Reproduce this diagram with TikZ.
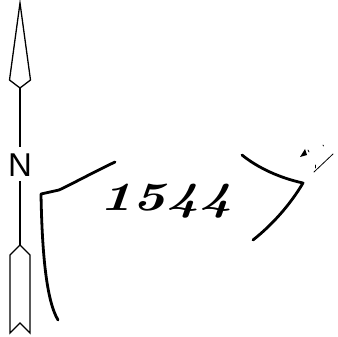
\documentclass[tikz,border=0pt]{standalone}
\usepackage{fontspec}
\newfontfamily\nfont{Liberation Sans}
\begin{document}
\begin{tikzpicture}[x=1pt,y=-1pt,
  arrowline/.style={line width=1.3pt,line join=miter},
  pen/.style={line width=2.8pt,line cap=round,line join=round},
  thinpen/.style={line width=0.8pt,line cap=round}]
\useasboundingbox (0,0) rectangle (338,337);
% north arrow
\node[font=\nfont\fontsize{33}{33}\selectfont,inner sep=0pt] (N) at (20,165) {N};
\coordinate (hb) at (20,88);
\coordinate (tt) at (20,245);
\draw[arrowline] (hb) -- (9.5,80) -- (20,3) -- (30.5,80) -- cycle;
\draw[arrowline] (hb) -- (20,147);
\draw[arrowline] (20,181) -- (tt);
\draw[arrowline] (tt) -- (10,255) -- (10,333) -- (20,323) -- (30,333) -- (30,255) -- cycle;
% brackets
\draw[pen] (115,162) .. controls (90,174) and (70,185) .. (59,190) -- (41,194)
  .. controls (42,250) and (46,300) .. (58,320);
\draw[pen] (242,155) .. controls (258,168) and (280,178) .. (303,183)
  .. controls (290,205) and (272,225) .. (253,240);
% handwritten number
\node[font=\bfseries\itshape\fontsize{40}{40}\selectfont,xscale=1.4,inner sep=0pt] (num) at (166,201) {1544};
% scribble
\fill (300,157) -- (305,149) -- (307,155) -- cycle;
\draw[thinpen] (308,150) -- (309,152);
\draw[thinpen] (314,172) -- (333,154);
\draw[thinpen] (315,165) -- (315,168);
\draw[thinpen] (323,145) -- (323.5,146);
\end{tikzpicture}
\end{document}
